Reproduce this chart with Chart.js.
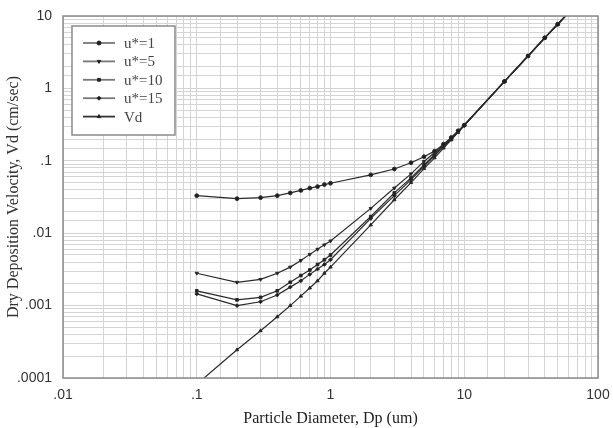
<!DOCTYPE html>
<html>
<head>
<meta charset="utf-8">
<script src="https://cdn.jsdelivr.net/npm/chart.js@4.4.1/dist/chart.umd.min.js"></script>
<style>
  html, body { margin: 0; padding: 0; background: #fff; }
  #wrap { width: 613px; height: 428px; }
</style>
</head>
<body>
<div id="wrap"><canvas id="depChart" width="613" height="428"></canvas></div>
<script>
// Particle diameters (um) shared by every curve
const diameters = [0.1, 0.2, 0.3, 0.4, 0.5, 0.6, 0.7, 0.8, 0.9, 1,
                   2, 3, 4, 5, 6, 7, 8, 9, 10, 20, 30, 40, 50, 60];

// Dry deposition velocity (cm/sec)
const uStar1  = [0.033, 0.030, 0.031, 0.033, 0.036, 0.039, 0.042, 0.044, 0.047, 0.049,
                 0.064, 0.077, 0.094, 0.114, 0.136, 0.17, 0.21, 0.26, 0.31, 1.25, 2.8, 5.0, 7.7, 11];
const uStar5  = [0.0028, 0.0021, 0.0023, 0.0028, 0.0034, 0.0042, 0.0051, 0.0060, 0.0069, 0.0078,
                 0.022, 0.042, 0.066, 0.098, 0.13, 0.165, 0.205, 0.255, 0.31, 1.25, 2.8, 5.0, 7.7, 11];
const uStar10 = [0.0016, 0.0012, 0.0013, 0.0016, 0.0021, 0.0026, 0.0031, 0.0037, 0.0043, 0.0050,
                 0.017, 0.036, 0.058, 0.088, 0.122, 0.16, 0.2, 0.25, 0.31, 1.25, 2.8, 5.0, 7.7, 11];
const uStar15 = [0.00145, 0.0010, 0.00113, 0.0014, 0.0018, 0.0022, 0.0027, 0.0032, 0.0037, 0.0043,
                 0.016, 0.033, 0.055, 0.084, 0.118, 0.157, 0.2, 0.25, 0.31, 1.25, 2.8, 5.0, 7.7, 11];
const vdSettle = [0.000082, 0.000245, 0.00045, 0.0007, 0.001, 0.00135, 0.00175, 0.0022, 0.0028, 0.0034,
                  0.013, 0.029, 0.05, 0.078, 0.11, 0.15, 0.195, 0.25, 0.31, 1.25, 2.8, 5.0, 7.7, 11];

const seriesLabels = ['u*=1', 'u*=5', 'u*=10', 'u*=15', 'Vd'];

// Decade tick labels
const xTickValues = [0.01, 0.1, 1, 10, 100];
const xTickLabels = ['.01', '.1', '1', '10', '100'];
const yTickValues = [0.0001, 0.001, 0.01, 0.1, 1, 10];
const yTickLabels = ['.0001', '.001', '.01', '.1', '1', '10'];

function toPoints(values) {
    return diameters.map((d, i) => ({ x: d, y: values[i] }));
}

function decadeLabel(value, vals, labels) {
    for (let i = 0; i < vals.length; i++) {
        if (Math.abs(value - vals[i]) / vals[i] < 1e-6) return labels[i];
    }
    return '';
}

const markerStyles = [
    { pointStyle: 'circle', rotation: 0 },
    { pointStyle: 'triangle', rotation: 180 },
    { pointStyle: 'rect', rotation: 0 },
    { pointStyle: 'rectRot', rotation: 0 },
    { pointStyle: 'triangle', rotation: 0 }
];

// Frame around plot + boxed legend inside the plot
const framePlugin = {
    id: 'frameAndLegend',
    afterDraw(chart) {
        const ctx = chart.ctx;
        const a = chart.chartArea;
        ctx.save();
        ctx.strokeStyle = '#8a8a8a';
        ctx.lineWidth = 1.5;
        ctx.strokeRect(a.left, a.top, a.right - a.left, a.bottom - a.top);

        // legend box
        const bx = a.left + 9, by = a.top + 10, bw = 103, bh = 109;
        ctx.fillStyle = '#fff';
        ctx.fillRect(bx, by, bw, bh);
        ctx.strokeStyle = '#8a8a8a';
        ctx.lineWidth = 1.5;
        ctx.strokeRect(bx, by, bw, bh);

        chart.data.datasets.forEach((ds, i) => {
            const y = by + 17 + i * 18.4;
            ctx.strokeStyle = i === 4 ? '#333' : '#777';
            ctx.lineWidth = 1.8;
            ctx.beginPath();
            ctx.moveTo(bx + 11, y);
            ctx.lineTo(bx + 43, y);
            ctx.stroke();
            ctx.fillStyle = '#222';
            ctx.strokeStyle = '#222';
            ctx.lineWidth = 1;
            Chart.helpers.drawPoint(ctx, {
                pointStyle: markerStyles[i].pointStyle,
                rotation: markerStyles[i].rotation,
                radius: 2,
                borderWidth: 1
            }, bx + 27, y);
            ctx.fillStyle = '#444';
            ctx.font = '15px "Liberation Serif", serif';
            ctx.textBaseline = 'middle';
            ctx.textAlign = 'left';
            ctx.fillText(ds.label, bx + 52, y + 1);
        });
        ctx.restore();
    }
};

const seriesValues = [uStar1, uStar5, uStar10, uStar15, vdSettle];

const ctx = document.getElementById('depChart').getContext('2d');
new Chart(ctx, {
    type: 'line',
    data: {
        datasets: seriesValues.map((vals, i) => ({
            label: seriesLabels[i],
            data: toPoints(vals),
            borderColor: '#2a2a2a',
            backgroundColor: '#1e1e1e',
            borderWidth: 1.2,
            pointRadius: 1.9,
            pointBorderWidth: 1,
            pointStyle: markerStyles[i].pointStyle,
            pointRotation: markerStyles[i].rotation,
            tension: 0,
            fill: false
        }))
    },
    options: {
        responsive: false,
        animation: false,
        devicePixelRatio: 1,
        layout: {
            padding: { left: 4, top: 16, right: 15, bottom: 0 }
        },
        plugins: {
            legend: { display: false },
            tooltip: { enabled: false }
        },
        scales: {
            x: {
                type: 'logarithmic',
                min: 0.01,
                max: 100,
                afterFit: function(scale) {
                    scale.height = 50;
                    scale.paddingLeft = 0;
                    scale.paddingRight = 0;
                },
                grid: { color: '#d4d4d4', lineWidth: 1, drawTicks: false },
                border: { display: false },
                ticks: {
                    autoSkip: false,
                    maxRotation: 0,
                    padding: 9,
                    color: '#333',
                    font: { family: '"Liberation Sans", Arial, sans-serif', size: 14 },
                    callback: function(value) {
                        return decadeLabel(value, xTickValues, xTickLabels);
                    }
                },
                title: {
                    display: true,
                    text: 'Particle Diameter, Dp (um)',
                    color: '#222',
                    padding: 0,
                    font: { family: '"Liberation Serif", serif', size: 16 }
                }
            },
            y: {
                type: 'logarithmic',
                min: 0.0001,
                max: 10,
                afterFit: function(scale) {
                    scale.width = 59;
                    scale.paddingTop = 0;
                    scale.paddingBottom = 0;
                },
                grid: { color: '#d4d4d4', lineWidth: 1, drawTicks: false },
                border: { display: false },
                ticks: {
                    autoSkip: false,
                    padding: 11,
                    color: '#333',
                    font: { family: '"Liberation Sans", Arial, sans-serif', size: 14 },
                    callback: function(value) {
                        return decadeLabel(value, yTickValues, yTickLabels);
                    }
                },
                title: {
                    display: true,
                    text: 'Dry Deposition Velocity, Vd (cm/sec)',
                    color: '#333',
                    padding: 0,
                    font: { family: '"Liberation Serif", serif', size: 16 }
                }
            }
        }
    },
    plugins: [framePlugin]
});
</script>
</body>
</html>
